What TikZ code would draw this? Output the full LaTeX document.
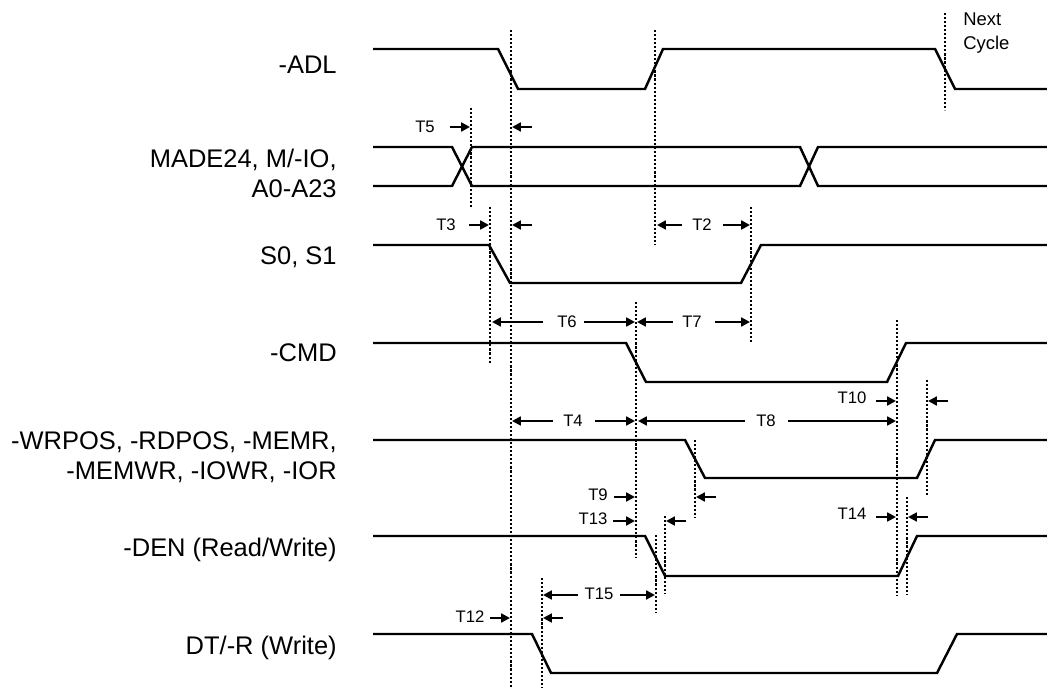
\documentclass[tikz,border=0pt]{standalone}
\usepackage{fontspec}
\setmainfont{Liberation Sans}
\usetikzlibrary{arrows.meta}

\tikzset{
    wave/.style={line width=1.4pt, line join=miter},
    guide/.style={line width=1.5pt, dash pattern=on 1.2pt off 1.1pt},
    dimarrow/.style={line width=1.4pt, -{Triangle[length=5pt,width=5pt]}},
    siglabel/.style={anchor=east, align=right, font=\fontsize{14.5}{17}\selectfont, inner sep=0pt},
    tlabel/.style={font=\fontsize{9.5}{11}\selectfont, inner sep=0pt}
}

\begin{document}
\begin{tikzpicture}[x=0.02cm, y=-0.02cm]
        \useasboundingbox (0,0) rectangle (1047,688);

        \node[siglabel] (adl) at (337,65) {-ADL};
        \node[siglabel] (made) at (337,173) {MADE24, M/-IO,\\A0-A23};
        \node[siglabel] (s01) at (337,257) {S0, S1};
        \node[siglabel] (cmd) at (337,353) {-CMD};
        \node[siglabel] (wrpos) at (337,457) {-WRPOS, -RDPOS, -MEMR,\\-MEMWR, -IOWR, -IOR};
        \node[siglabel] (den) at (337,550) {-DEN (Read/Write)};
        \node[siglabel] (dtr) at (337,648) {DT/-R (Write)};
        \node[tlabel, anchor=west, align=left, font=\fontsize{10.5}{14}\selectfont] (next) at (963,33) {Next\\Cycle};

        \draw[wave] (373,49) -- (498,49) -- (518,89) -- (645,89) -- (663,49) -- (935,49) -- (955,89) -- (1047,89);
        \draw[wave] (373,147) -- (452,147) -- (472,186) -- (800,186) -- (818,147) -- (1047,147);
        \draw[wave] (373,186) -- (452,186) -- (472,147) -- (800,147) -- (818,186) -- (1047,186);
        \draw[wave] (373,245) -- (489,245) -- (510,283) -- (741,283) -- (761,245) -- (1047,245);
        \draw[wave] (373,343) -- (626,343) -- (646,382) -- (887,382) -- (906,343) -- (1047,343);
        \draw[wave] (373,440) -- (685,440) -- (705,478) -- (917,478) -- (935,440) -- (1047,440);
        \draw[wave] (373,536) -- (645,536) -- (665,576) -- (898,576) -- (917,536) -- (1047,536);
        \draw[wave] (373,634) -- (532,634) -- (551,673) -- (937,673) -- (957,634) -- (1047,634);

        \draw[guide] (511,30) -- (511,688);
        \draw[guide] (655,30) -- (655,245);
        \draw[guide] (945,13) -- (945,110);
        \draw[guide] (471,108) -- (471,207);
        \draw[guide] (490,207) -- (490,363);
        \draw[guide] (751,207) -- (751,342);
        \draw[guide] (636,302) -- (636,557);
        \draw[guide] (897,320) -- (897,595);
        \draw[guide] (927,380) -- (927,497);
        \draw[guide] (695,440) -- (695,518);
        \draw[guide] (665,516) -- (665,593);
        \draw[guide] (907,497) -- (907,595);
        \draw[guide] (656,535) -- (656,612);
        \draw[guide] (542,578) -- (542,688);

        \node[tlabel] (t5) at (425,127) {T5};
        \draw[dimarrow] (450,127) -- (470,127);
        \draw[dimarrow] (532,127) -- (512,127);

        \node[tlabel] (t3) at (446,225) {T3};
        \draw[dimarrow] (469,225) -- (489,225);
        \draw[dimarrow] (532,225) -- (512,225);

        \node[tlabel] (t2) at (702,225) {T2};
        \draw[dimarrow] (682,225) -- (657,225);
        \draw[dimarrow] (723,225) -- (750,225);

        \node[tlabel] (t6) at (567,322) {T6};
        \draw[dimarrow] (543,322) -- (492,322);
        \draw[dimarrow] (584,322) -- (635,322);
        \node[tlabel] (t7) at (692,322) {T7};
        \draw[dimarrow] (673,322) -- (637,322);
        \draw[dimarrow] (715,322) -- (750,322);

        \node[tlabel] (t10) at (852,398) {T10};
        \draw[dimarrow] (876,401) -- (896,401);
        \draw[dimarrow] (948,401) -- (928,401);

        \node[tlabel] (t4) at (573,421) {T4};
        \draw[dimarrow] (553,421) -- (512,421);
        \draw[dimarrow] (595,421) -- (635,421);
        \node[tlabel] (t8) at (766,421) {T8};
        \draw[dimarrow] (745,421) -- (638,421);
        \draw[dimarrow] (788,421) -- (896,421);

        \node[tlabel] (t9) at (598,495) {T9};
        \draw[dimarrow] (614,497) -- (635,497);
        \draw[dimarrow] (716,497) -- (696,497);

        \node[tlabel] (t13) at (593,519) {T13};
        \draw[dimarrow] (613,521) -- (635,521);
        \draw[dimarrow] (686,521) -- (666,521);

        \node[tlabel] (t14) at (852,514) {T14};
        \draw[dimarrow] (876,517) -- (896,517);
        \draw[dimarrow] (928,517) -- (908,517);

        \node[tlabel] (t15) at (599,594) {T15};
        \draw[dimarrow] (578,595) -- (543,595);
        \draw[dimarrow] (620,595) -- (655,595);

        \node[tlabel] (t12) at (470,617) {T12};
        \draw[dimarrow] (490,618) -- (510,618);
        \draw[dimarrow] (563,618) -- (543,618);
    \end{tikzpicture}
\end{document}
